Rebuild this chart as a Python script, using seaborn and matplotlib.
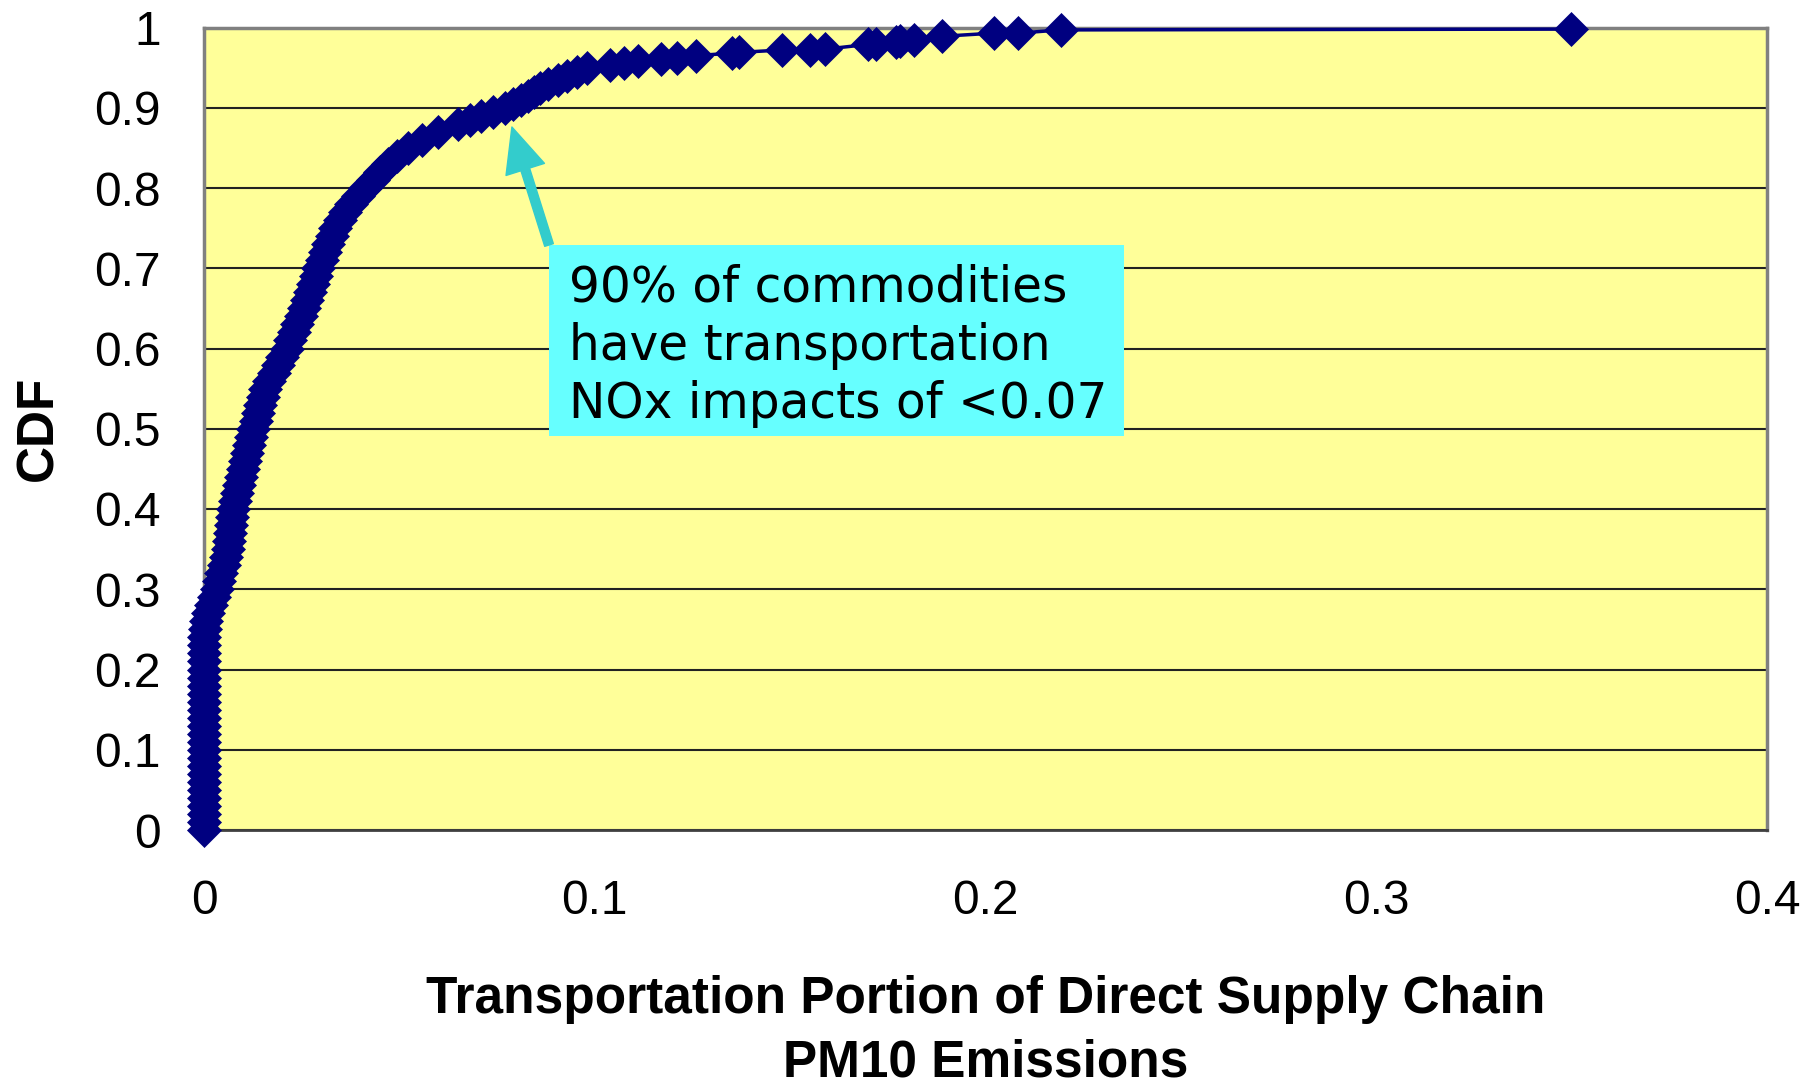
import matplotlib
matplotlib.use("Agg")
import matplotlib.pyplot as plt
import seaborn as sns
import pandas as pd
from matplotlib.patches import Rectangle

# values (transport share of PM10 vs. cumulative fraction)
share = [0.0, 0.0, 0.0, 0.0, 0.0, 0.0, 0.0, 0.0, 0.0, 0.0, 0.0, 0.0, 0.0,
         0.0, 0.0, 0.0, 0.0, 0.0, 0.0, 0.0, 0.0, 0.0, 0.0, 0.0, 0.0, 0.0003,
         0.0006, 0.0011, 0.0018, 0.0025, 0.0032, 0.0038, 0.0044, 0.0050, 0.0056, 0.0062,
         0.0064, 0.0067, 0.0069, 0.0072, 0.0074, 0.0079, 0.0084, 0.0089, 0.0094, 0.0099,
         0.0104, 0.0110, 0.0115, 0.0121, 0.0126, 0.0132, 0.0138, 0.0144, 0.0150, 0.0156,
         0.0167, 0.0178, 0.0189, 0.0200, 0.0212, 0.0221, 0.0230, 0.0239, 0.0248, 0.0257,
         0.0264, 0.0271, 0.0278, 0.0286, 0.0293, 0.0302, 0.0310, 0.0318, 0.0327, 0.0335,
         0.0347, 0.0360, 0.0376, 0.0394, 0.0412, 0.0432, 0.0450, 0.0470, 0.0495, 0.0521,
         0.0558, 0.0598, 0.0650, 0.0680, 0.0710, 0.0740, 0.0770, 0.0790, 0.0810, 0.0830,
         0.0845, 0.0860, 0.0880, 0.0905, 0.0930, 0.0955, 0.0980, 0.1040, 0.1075, 0.1110,
         0.1170, 0.1210, 0.1260, 0.1350, 0.1370, 0.1480, 0.1550, 0.1590, 0.1700, 0.1720,
         0.1770, 0.1780, 0.1818, 0.1888, 0.2021, 0.2084, 0.2193, 0.3498]
cdf = [0.0, 0.01, 0.02, 0.03, 0.04, 0.05, 0.06, 0.07, 0.08, 0.09, 0.10, 0.11, 0.12,
       0.13, 0.14, 0.15, 0.16, 0.17, 0.18, 0.19, 0.20, 0.21, 0.22, 0.23, 0.24, 0.25,
       0.26, 0.27, 0.28, 0.29, 0.30, 0.31, 0.32, 0.33, 0.34, 0.35,
       0.36, 0.37, 0.38, 0.39, 0.40, 0.41, 0.42, 0.43, 0.44, 0.45,
       0.46, 0.47, 0.48, 0.49, 0.50, 0.51, 0.52, 0.53, 0.54, 0.55,
       0.56, 0.57, 0.58, 0.59, 0.60, 0.61, 0.62, 0.63, 0.64, 0.65,
       0.66, 0.67, 0.68, 0.69, 0.70, 0.71, 0.72, 0.73, 0.74, 0.75,
       0.76, 0.77, 0.78, 0.79, 0.80, 0.81, 0.82, 0.83, 0.84, 0.85,
       0.86, 0.87, 0.88, 0.885, 0.89, 0.895, 0.90, 0.905, 0.91, 0.915,
       0.92, 0.925, 0.93, 0.935, 0.94, 0.945, 0.95, 0.953, 0.956, 0.958,
       0.961, 0.962, 0.965, 0.968, 0.969, 0.972, 0.972, 0.973, 0.979, 0.980,
       0.982, 0.983, 0.984, 0.989, 0.993, 0.993, 0.997, 0.998]

x_ticks = [0, 0.1, 0.2, 0.3, 0.4]
x_ticklabels = ["0", "0.1", "0.2", "0.3", "0.4"]
y_ticks = [0, 0.1, 0.2, 0.3, 0.4, 0.5, 0.6, 0.7, 0.8, 0.9, 1.0]
y_ticklabels = ["0", "0.1", "0.2", "0.3", "0.4", "0.5", "0.6", "0.7", "0.8", "0.9", "1"]

note = "90% of commodities\nhave transportation\nNOx impacts of <0.07"

sns.set_style("white")
plt.rcParams["font.family"] = ["Liberation Sans", "DejaVu Sans"]
plt.rcParams["text.color"] = "black"
plt.rcParams["axes.labelcolor"] = "black"
plt.rcParams["xtick.color"] = "black"
plt.rcParams["ytick.color"] = "black"

df = pd.DataFrame({"share": share, "cdf": cdf})

fig = plt.figure(figsize=(18.1, 10.91), dpi=100)
ax = fig.add_axes([204 / 1810, 261 / 1091, 1563 / 1810, 802.5 / 1091])
ax.set_facecolor("#FFFF99")

sns.lineplot(data=df, x="share", y="cdf", ax=ax, estimator=None, sort=False,
             color="#000080", linewidth=2.5, marker="D", markersize=17,
             markeredgecolor="#000080", markeredgewidth=0.5, clip_on=False, zorder=5)

ax.set_xlim(0, 0.4)
ax.set_ylim(0, 1)
ax.set_xticks(x_ticks)
ax.set_xticklabels(x_ticklabels)
ax.set_yticks(y_ticks)
ax.set_yticklabels(y_ticklabels)
ax.yaxis.grid(True, color="#222222", linewidth=1.5)
ax.xaxis.grid(False)
ax.tick_params(axis="both", direction="out", length=12, width=1, color="black",
               labelsize=34.5, labelcolor="black")
ax.tick_params(axis="y", pad=19)
ax.tick_params(axis="x", pad=23)

for side in ["top", "right", "left"]:
    ax.spines[side].set_color("#808080")
    ax.spines[side].set_linewidth(2.5)
ax.spines["bottom"].set_color("#404040")
ax.spines["bottom"].set_linewidth(2)

ax.set_xlabel("Transportation Portion of Direct Supply Chain\nPM10 Emissions",
              fontsize=37, fontweight="bold", labelpad=37, linespacing=1.38,
              color="black")
ax.set_ylabel("CDF", fontsize=37, fontweight="bold", labelpad=22, color="black")

# callout box and arrow
ax.add_patch(Rectangle((0.0883, 0.491), 0.1471, 0.238, facecolor="#66FFFF",
                       edgecolor="none", zorder=3))
ax.text(0.0934, 0.603, note, fontsize=35, family=["DejaVu Sans"], color="black",
        ha="left", va="center", linespacing=1.27, zorder=4)
ax.annotate("", xy=(0.0788, 0.876), xytext=(0.0883, 0.729),
            arrowprops=dict(arrowstyle="simple,head_length=3.2,head_width=2.9,tail_width=0.65",
                            mutation_scale=10, color="#33CCCC", shrinkA=0, shrinkB=0),
            zorder=4)

fig.savefig("out.png", dpi=100)
